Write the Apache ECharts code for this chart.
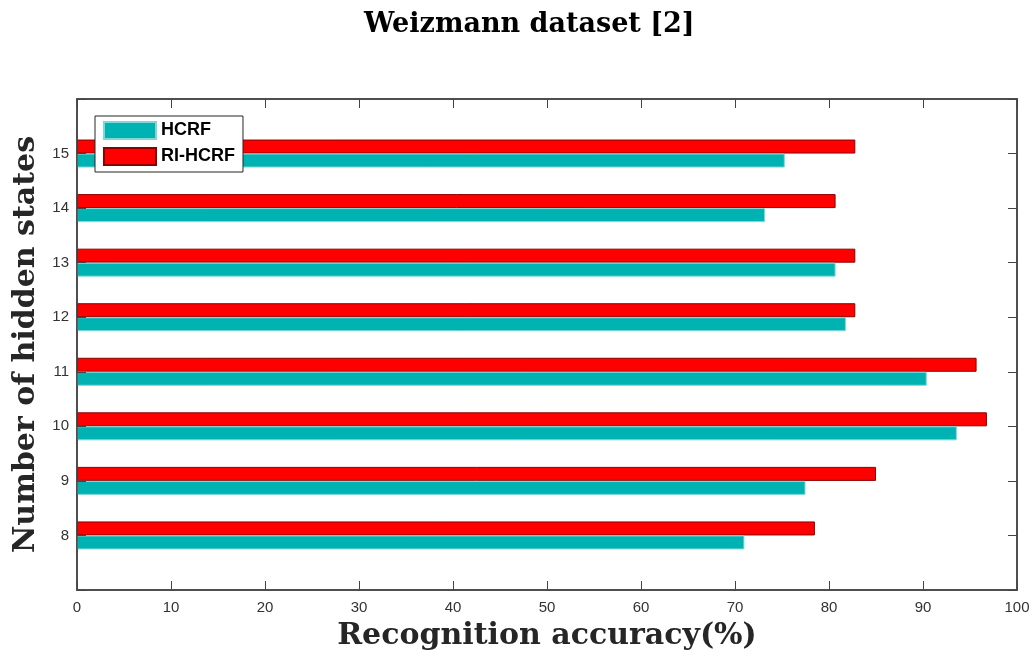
<!DOCTYPE html>
<html>
<head>
<meta charset="utf-8">
<script src="https://cdn.jsdelivr.net/npm/echarts@6/dist/echarts.min.js"></script>
<style>html,body{margin:0;padding:0;background:#fff}#c{width:1033px;height:657px}</style>
</head>
<body>
<div id="c"></div>
<script>
const categories = ['7','8','9','10','11','12','13','14','15','16'];
const hcrf   = [null, 71.0, 77.5, 93.6, 90.4, 81.8, 80.7, 73.2, 75.3, null];
const riHcrf = [null, 78.5, 85.0, 96.8, 95.7, 82.8, 82.8, 80.7, 82.8, null];
const xTicks = [0,10,20,30,40,50,60,70,80,90,100];

const axisColor = '#444444';
const labelColor = '#333333';
const hide = v => (v === '7' || v === '16');
const chart = echarts.init(document.getElementById('c'));
chart.setOption({
  animation: false,
  title: {
    text: 'Weizmann dataset [2]',
    left: 359, top: 6,
    textStyle: {fontFamily: 'DejaVu Serif', fontWeight: 'bold', fontSize: 27, color: '#000'}
  },
  legend: {
    left: 95, top: 116, orient: 'vertical',
    itemWidth: 52, itemHeight: 17, itemGap: 7, icon: 'rect',
    padding: [5, 8, 6, 8],
    borderColor: '#262626', borderWidth: 1, backgroundColor: '#fff',
    textStyle: {fontFamily: 'Liberation Sans', fontWeight: 'bold', fontSize: 18, color: '#000'},
    data: ['HCRF', 'RI-HCRF']
  },
  grid: {left: 77, right: 16, top: 99, bottom: 67, show: true, borderColor: axisColor, borderWidth: 1.5, backgroundColor: '#fff'},
  xAxis: [{
    type: 'value', min: 0, max: 100, interval: 10, position: 'bottom', z: 5,
    name: 'Recognition accuracy(%)', nameLocation: 'middle', nameGap: 31,
    nameTextStyle: {fontFamily: 'DejaVu Serif', fontWeight: 'bold', fontSize: 30, color: '#262626'},
    axisLine: {show: true, onZero: false, lineStyle: {color: axisColor, width: 1.5}},
    axisTick: {show: true, inside: true, length: 9, lineStyle: {color: axisColor}},
    axisLabel: {margin: 10, fontFamily: 'Liberation Sans', fontSize: 15, color: labelColor,
      formatter: v => xTicks.includes(v) ? String(v) : ''},
    splitLine: {show: false}
  }, {
    type: 'value', min: 0, max: 100, interval: 10, position: 'top', z: 5,
    axisLine: {show: true, onZero: false, lineStyle: {color: axisColor, width: 1.5}},
    axisTick: {show: true, inside: true, length: 9, lineStyle: {color: axisColor}},
    axisLabel: {show: false}, splitLine: {show: false}
  }],
  yAxis: [{
    type: 'category', data: categories, boundaryGap: false, position: 'left', z: 5,
    name: 'Number of hidden states', nameLocation: 'middle', nameGap: 34,
    nameTextStyle: {fontFamily: 'DejaVu Serif', fontWeight: 'bold', fontSize: 30, color: '#262626'},
    axisLine: {show: true, onZero: false, lineStyle: {color: axisColor, width: 1.5}},
    axisTick: {show: true, inside: true, length: 9, interval: 0, lineStyle: {color: axisColor}},
    axisLabel: {margin: 8, fontFamily: 'Liberation Sans', fontSize: 15, color: labelColor,
      interval: 0, formatter: v => hide(v) ? '' : v},
    splitLine: {show: false}
  }, {
    type: 'category', data: categories, boundaryGap: false, position: 'right', z: 5,
    axisLine: {show: true, onZero: false, lineStyle: {color: axisColor, width: 1.5}},
    axisTick: {show: true, inside: true, length: 9, interval: 0, lineStyle: {color: axisColor}},
    axisLabel: {show: false}, splitLine: {show: false}
  }],
  series: [{
    name: 'RI-HCRF', type: 'bar', data: riHcrf, barWidth: 14, barGap: '0%',
    itemStyle: {color: '#FF0000', borderColor: '#8b0000', borderWidth: 1}
  }, {
    name: 'HCRF', type: 'bar', data: hcrf, barWidth: 14, barGap: '0%',
    itemStyle: {color: '#00B2B2', borderColor: '#7fd8d8', borderWidth: 1}
  }]
});
</script>
</body>
</html>
